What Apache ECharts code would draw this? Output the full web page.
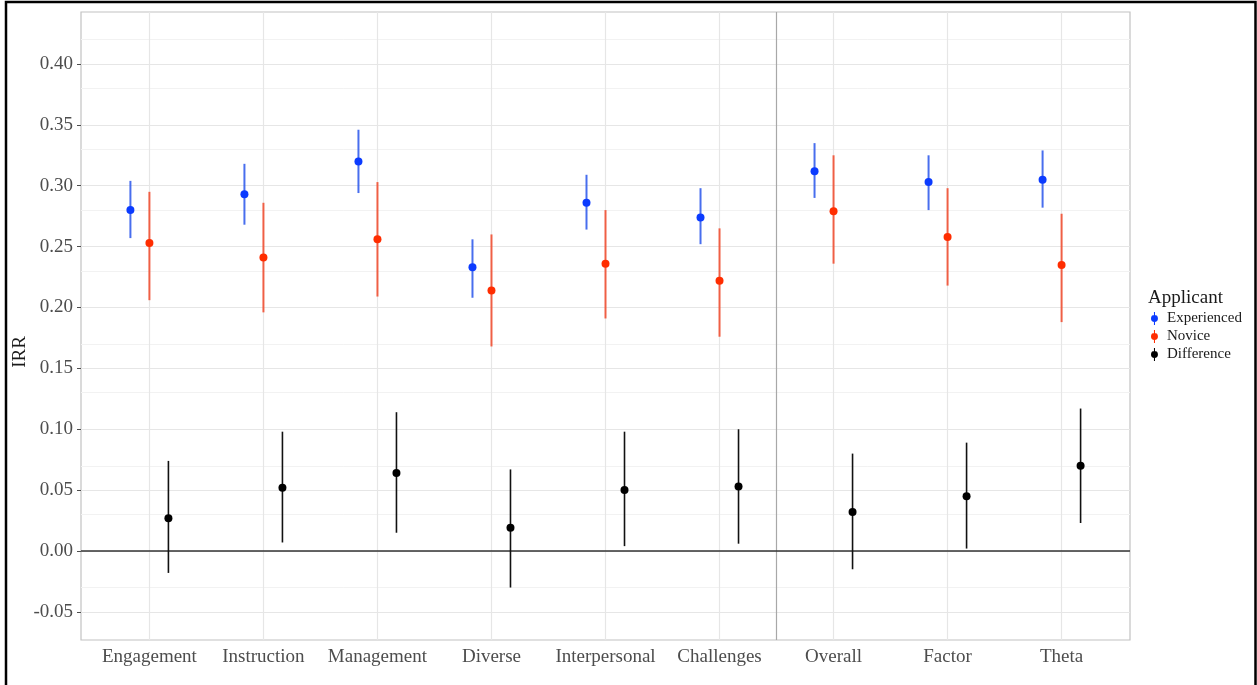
<!DOCTYPE html>
<html>
<head>
<meta charset="utf-8">
<script src="https://cdn.jsdelivr.net/npm/echarts@6/dist/echarts.min.js"></script>
<style>
  html, body { margin: 0; padding: 0; background: #ffffff; }
  #chart { width: 1257px; height: 685px; }
</style>
</head>
<body>
<div id="chart"></div>
<script>
// Rating dimensions along the x axis
const categories = ['Engagement', 'Instruction', 'Management', 'Diverse', 'Interpersonal', 'Challenges', 'Overall', 'Factor', 'Theta'];

// Experienced applicants: estimate and interval bounds
const experiencedEst  = [0.280, 0.293, 0.320, 0.233, 0.286, 0.274, 0.312, 0.303, 0.305];
const experiencedLow  = [0.257, 0.268, 0.294, 0.208, 0.264, 0.252, 0.290, 0.280, 0.282];
const experiencedHigh = [0.304, 0.318, 0.346, 0.256, 0.309, 0.298, 0.335, 0.325, 0.329];

// Novice applicants
const noviceEst  = [0.253, 0.241, 0.256, 0.214, 0.236, 0.222, 0.279, 0.258, 0.235];
const noviceLow  = [0.206, 0.196, 0.209, 0.168, 0.191, 0.176, 0.236, 0.218, 0.188];
const noviceHigh = [0.295, 0.286, 0.303, 0.260, 0.280, 0.265, 0.325, 0.298, 0.277];

// Difference (experienced - novice)
const diffEst  = [0.027, 0.052, 0.064, 0.019, 0.050, 0.053, 0.032, 0.045, 0.070];
const diffLow  = [-0.018, 0.007, 0.015, -0.030, 0.004, 0.006, -0.015, 0.002, 0.023];
const diffHigh = [0.074, 0.098, 0.114, 0.067, 0.098, 0.100, 0.080, 0.089, 0.117];

// Y axis tick labels and minor grid positions
const yTicks = [-0.05, 0.00, 0.05, 0.10, 0.15, 0.20, 0.25, 0.30, 0.35, 0.40];
const yMinor = [-0.025, 0.025, 0.075, 0.125, 0.175, 0.225, 0.275, 0.325, 0.375, 0.425];

const FONT = 'Liberation Serif';
const DODGE = 1 / 6;
const xPositions = categories.map((c, i) => i + 1);

const KEY_ICON = 'path://M3.4,0H4.6V15H3.4Z M0,7.5A4,4,0,1,1,8,7.5A4,4,0,1,1,0,7.5Z';

function pointSeries(name, offset, est, color) {
  return {
    type: 'scatter',
    name: name,
    z: 20,
    symbol: 'circle',
    symbolSize: 8,
    itemStyle: { color: color, opacity: 1 },
    data: est.map((v, i) => [xPositions[i] + offset, v]),
    silent: true,
    animation: false
  };
}

function errorSeries(name, offset, lows, highs, color, width) {
  return {
    type: 'custom',
    name: name,
    z: 15,
    silent: true,
    animation: false,
    data: lows.map((lo, i) => [xPositions[i] + offset, lo, highs[i]]),
    encode: { x: 0, y: [1, 2] },
    renderItem: function (params, api) {
      const a = api.coord([api.value(0), api.value(1)]);
      const b = api.coord([api.value(0), api.value(2)]);
      return {
        type: 'line',
        shape: { x1: a[0], y1: a[1], x2: b[0], y2: b[1] },
        style: { stroke: color, lineWidth: width }
      };
    }
  };
}

// Panel grid lines, group separator and zero reference line
const gridLines = [];
yMinor.forEach(v => gridLines.push({ yAxis: v, lineStyle: { color: '#f2f2f2', width: 1, type: 'solid' } }));
yTicks.forEach(v => gridLines.push({ yAxis: v, lineStyle: { color: '#e6e6e6', width: 1.2, type: 'solid' } }));
xPositions.forEach(v => gridLines.push({ xAxis: v, lineStyle: { color: '#e6e6e6', width: 1.2, type: 'solid' } }));
gridLines.push({ xAxis: 6.5, lineStyle: { color: '#a8a8a8', width: 1.2, type: 'solid' } });
gridLines.push({ yAxis: 0, lineStyle: { color: '#333333', width: 1.6, type: 'solid' } });

const chart = echarts.init(document.getElementById('chart'), null, { renderer: 'canvas' });

chart.setOption({
  backgroundColor: '#ffffff',
  animation: false,
  title: {
    text: 'Applicant',
    left: 1148,
    top: 289,
    padding: 0,
    textStyle: { fontFamily: FONT, fontSize: 19, fontWeight: 'normal', color: '#1a1a1a' }
  },
  legend: {
    orient: 'vertical',
    left: 1151,
    top: 311,
    padding: 0,
    itemWidth: 7,
    itemHeight: 13,
    itemGap: 3,
    selectedMode: false,
    textStyle: { fontFamily: FONT, fontSize: 15, lineHeight: 14, color: '#1a1a1a', padding: [0, 0, 0, 4] },
    data: [
      { name: 'Experienced', icon: KEY_ICON, itemStyle: { color: '#0b3bff' } },
      { name: 'Novice', icon: KEY_ICON, itemStyle: { color: '#ff2d00' } },
      { name: 'Difference', icon: KEY_ICON, itemStyle: { color: '#000000' } }
    ]
  },
  grid: {
    left: 81,
    right: 127,
    top: 12,
    bottom: 45,
    outerBoundsMode: 'none',
    containLabel: false,
    show: true,
    backgroundColor: '#ffffff',
    borderColor: '#c2c2c2',
    borderWidth: 1.2
  },
  xAxis: {
    type: 'value',
    min: 0.4,
    max: 9.6,
    axisLine: { show: false },
    splitLine: { show: false },
    axisTick: { show: true, length: 4, customValues: xPositions, lineStyle: { color: '#4d4d4d', width: 1 } },
    axisLabel: {
      customValues: xPositions,
      margin: 8,
      fontFamily: FONT,
      fontSize: 19,
      color: '#4d4d4d',
      formatter: v => categories[Math.round(v) - 1] || ''
    }
  },
  yAxis: {
    type: 'value',
    min: -0.0731,
    max: 0.4427,
    axisLine: { show: false },
    splitLine: { show: false },
    axisTick: { show: true, length: 4, customValues: yTicks, lineStyle: { color: '#4d4d4d', width: 1 } },
    axisLabel: {
      customValues: yTicks,
      margin: 8,
      fontFamily: FONT,
      fontSize: 19,
      color: '#4d4d4d',
      formatter: v => v.toFixed(2)
    }
  },
  graphic: [
    {
      type: 'text',
      silent: true,
      x: 20,
      y: 352,
      rotation: Math.PI / 2,
      style: {
        text: 'IRR',
        fontFamily: FONT,
        fontSize: 19,
        fill: '#1a1a1a',
        align: 'center',
        verticalAlign: 'middle'
      }
    },
    {
      type: 'rect',
      silent: true,
      z: 100,
      shape: { x: 6, y: 2, width: 1249.5, height: 720 },
      style: { fill: 'none', stroke: '#000000', lineWidth: 2.5 }
    }
  ],
  series: [
    {
      type: 'scatter',
      name: 'panel',
      z: 1,
      silent: true,
      data: [],
      markLine: {
        z: 1,
        silent: true,
        symbol: ['none', 'none'],
        animation: false,
        label: { show: false },
        data: gridLines
      }
    },
    pointSeries('Experienced', -DODGE, experiencedEst, '#0b3bff'),
    pointSeries('Novice', 0, noviceEst, '#ff2d00'),
    pointSeries('Difference', DODGE, diffEst, '#000000'),
    errorSeries('Experienced', -DODGE, experiencedLow, experiencedHigh, 'rgba(40,85,235,0.85)', 2),
    errorSeries('Novice', 0, noviceLow, noviceHigh, 'rgba(240,70,40,0.85)', 2),
    errorSeries('Difference', DODGE, diffLow, diffHigh, '#111111', 1.6)
  ]
});
</script>
</body>
</html>
